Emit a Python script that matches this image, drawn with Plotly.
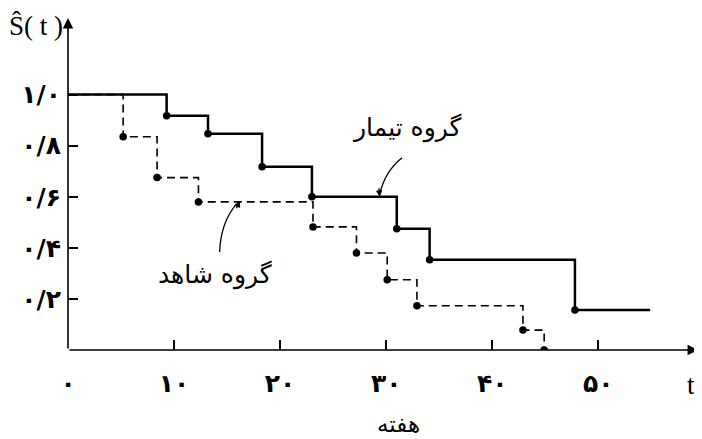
import plotly.graph_objects as go

# Kaplan-Meier estimates (weeks, S(t))
treat_t = [0, 9.3, 13.2, 18.3, 23.0, 31.0, 34.1, 47.8, 54.9]
treat_s = [1.0, 0.917, 0.847, 0.718, 0.60, 0.475, 0.353, 0.157, 0.157]

ctrl_t = [0, 5.2, 8.4, 12.3, 23.1, 27.2, 30.1, 32.9, 42.9, 44.9]
ctrl_s = [1.0, 0.835, 0.675, 0.58, 0.482, 0.38, 0.275, 0.173, 0.078, 0.0]

x_ticks = [0, 10, 20, 30, 40, 50]
x_labels = ["۰", "۱۰", "۲۰", "۳۰", "۴۰", "۵۰"]
y_ticks = [0.2, 0.4, 0.6, 0.8, 1.0]
y_labels = ["۰/۲", "۰/۴", "۰/۶", "۰/۸", "۱/۰"]

label_treat = "گروه تیمار"
label_ctrl = "گروه شاهد"
x_title = "هفته"

fa_font = "DejaVu Sans"
serif = "Liberation Serif"

fig = go.Figure()

# step lines
fig.add_trace(go.Scatter(x=ctrl_t, y=ctrl_s, mode="lines", line_shape="hv",
    line=dict(color="black", width=1.6, dash="8px,5px"), showlegend=False))
fig.add_trace(go.Scatter(x=treat_t, y=treat_s, mode="lines", line_shape="hv",
    line=dict(color="black", width=2.5), showlegend=False))

# dots at each drop
fig.add_trace(go.Scatter(x=ctrl_t[1:], y=ctrl_s[1:], mode="markers",
    marker=dict(color="black", size=7.5), showlegend=False))
fig.add_trace(go.Scatter(x=treat_t[1:-1], y=treat_s[1:-1], mode="markers",
    marker=dict(color="black", size=7.5), showlegend=False))

# axes drawn as arrows
fig.add_annotation(x=0, y=1.3, ax=0, ay=0, xref="x", yref="y", axref="x", ayref="y",
    showarrow=True, arrowhead=2, arrowsize=1.3, arrowwidth=1.6, arrowcolor="black", text="")
fig.add_annotation(x=59.4, y=0, ax=0, ay=0, xref="x", yref="y", axref="x", ayref="y",
    showarrow=True, arrowhead=2, arrowsize=1.3, arrowwidth=1.6, arrowcolor="black", text="")

# curved leaders to the group labels
fig.add_shape(type="path", xref="x", yref="y",
    path="M 31.5,0.753 Q 29.9,0.70 29.4,0.612",
    line=dict(color="black", width=1.3))
fig.add_shape(type="path", xref="x", yref="y",
    path="M 15.9,0.572 Q 14.4,0.50 14.3,0.384",
    line=dict(color="black", width=1.3))
fig.add_annotation(x=29.4, y=0.60, ax=-1, ay=-10, xref="x", yref="y",
    showarrow=True, arrowhead=2, arrowsize=1, arrowwidth=1.3, arrowcolor="black", text="")
fig.add_annotation(x=16.2, y=0.584, ax=-4, ay=9, xref="x", yref="y",
    showarrow=True, arrowhead=2, arrowsize=1, arrowwidth=1.3, arrowcolor="black", text="")

fig.add_annotation(x=32.0, y=0.871, text=label_treat, showarrow=False,
    font=dict(family=fa_font, size=25, color="black"))
fig.add_annotation(x=13.9, y=0.294, text=label_ctrl, showarrow=False,
    font=dict(family=fa_font, size=25, color="black"))

fig.add_annotation(x=0, y=1, xref="paper", yref="paper", text="Ŝ( t )", showarrow=False,
    xanchor="right", yanchor="top", xshift=-3, yshift=9,
    font=dict(family=serif, size=27, color="black"))
fig.add_annotation(x=58.7, y=0, xref="x", yref="paper", text="t", showarrow=False,
    yanchor="middle", yshift=-35, font=dict(family=serif, size=27, color="black"))
fig.add_annotation(x=31.2, y=0, xref="x", yref="paper", text=x_title, showarrow=False,
    yanchor="middle", yshift=-74, font=dict(family=fa_font, size=23, color="black"))

fig.update_xaxes(range=[0, 59.5], tickvals=x_ticks, ticktext=x_labels,
    ticks="inside", ticklen=10, tickwidth=1.5, tickcolor="black", automargin=False,
    showgrid=False, zeroline=False, showline=False, ticklabelstandoff=16,
    tickfont=dict(family=fa_font, size=25, weight="bold", color="black"))
fig.update_yaxes(range=[0, 1.3], tickvals=y_ticks, ticktext=y_labels,
    ticks="inside", ticklen=10, tickwidth=1.5, tickcolor="black", automargin=False,
    showgrid=False, zeroline=False, showline=False, ticklabelstandoff=6,
    tickfont=dict(family=fa_font, size=25, weight="bold", color="black"))

# page body adds an 8px offset, so the figure is sized to sit inside the window
fig.update_layout(width=694, height=431, margin=dict(l=60, r=3, t=10, b=89),
    plot_bgcolor="white", paper_bgcolor="white")

fig.write_html("out.html")
